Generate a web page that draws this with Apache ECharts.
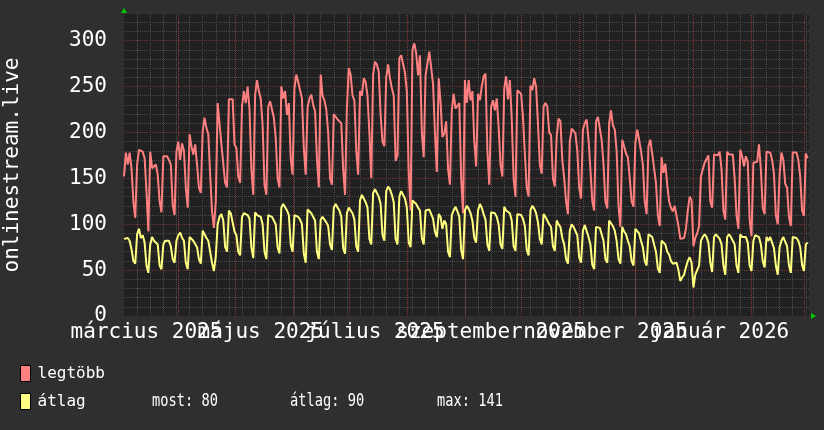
<!DOCTYPE html>
<html>
<head>
<meta charset="utf-8">
<script src="https://cdn.jsdelivr.net/npm/echarts@6/dist/echarts.min.js"></script>
<style>
html,body{margin:0;padding:0;background:#2f2f2f;}
#c{width:824px;height:430px;}
</style>
</head>
<body>
<div id="c"></div>
<script>
// Daily values starting Monday 2025-03-03 (one row per week, Mon..Sun)
const startDate = '2025-03-03';
const legtobb = [
152,178,165,178,161,125,107,
165,181,181,179,172,136,92,
179,161,159,165,154,125,113,
174,172,174,170,165,121,110,
179,190,170,188,180,140,118,
198,185,176,187,165,140,134,
201,216,205,198,154,114,96,
125,232,234,187,185,145,140,
236,234,236,187,183,152,145,
228,245,232,250,225,160,132,
241,257,245,237,208,143,132,
228,234,225,216,194,150,140,
250,237,245,219,232,172,154,
248,263,255,246,237,183,154,
227,237,241,230,223,172,140,
263,240,235,225,200,150,143,
220,217,214,212,210,160,132,
227,270,263,240,235,180,154,
245,240,259,255,240,200,150,
263,277,274,266,219,190,185,
260,274,259,248,240,169,175,
281,284,283,265,245,158,115,
290,297,286,262,284,200,173,
262,264,288,286,253,200,157,
259,233,195,199,212,160,143,
224,242,226,226,232,150,112,
257,232,257,235,245,190,163,
242,235,250,261,264,180,143,
228,235,224,237,206,165,152,
248,261,236,257,215,150,130,
246,244,242,217,177,140,130,
251,246,259,250,210,165,155,
228,232,228,200,197,150,141,
196,215,212,170,150,125,111,
190,204,202,199,180,140,128,
203,210,214,192,160,125,115,
212,217,217,192,165,125,117,
210,224,208,203,180,120,97,
192,185,177,173,150,125,119,
189,203,192,180,165,125,111,
185,192,177,175,145,110,98,
173,156,166,143,125,118,114,
120,118,98,84,82,85,95,
115,130,126,76,85,90,98,
152,160,167,168,175,125,118,
176,178,175,179,160,115,105,
179,176,178,176,150,110,95,
181,174,163,174,168,105,87,
167,168,168,187,160,118,111,
179,177,178,170,155,110,100,
154,178,170,144,140,108,98,
178,176,178,170,152,115,109,
177,172
];
const atlag = [
84,86,85,82,73,60,57,
89,95,85,88,80,55,47,
78,86,82,80,78,55,51,
78,82,80,82,76,62,58,
82,88,91,85,82,58,51,
86,84,82,80,75,62,57,
93,89,85,82,70,58,49,
65,100,108,111,104,75,70,
115,112,110,92,88,70,66,
108,112,114,110,106,75,63,
113,110,112,108,100,70,62,
110,112,108,106,100,75,68,
118,122,120,115,110,78,70,
110,112,108,105,100,68,58,
116,118,112,110,104,70,62,
105,108,106,102,98,78,72,
118,122,118,115,108,74,68,
112,118,116,112,105,76,70,
126,132,128,124,118,84,78,
134,138,136,130,122,88,82,
136,141,138,132,124,84,78,
130,136,134,128,118,80,75,
126,124,122,118,115,85,78,
115,117,116,111,106,92,86,
111,108,95,104,100,70,64,
110,115,119,114,108,72,62,
115,120,117,112,104,85,80,
115,122,118,111,105,78,71,
113,115,112,108,100,78,73,
119,115,116,112,104,76,71,
111,113,110,106,98,72,66,
115,120,117,112,102,84,78,
111,108,107,100,97,76,71,
104,100,97,85,78,62,57,
93,100,97,96,88,64,58,
93,99,97,86,78,56,51,
97,99,96,89,82,62,58,
104,102,98,93,82,62,57,
97,92,89,82,76,60,55,
95,93,90,82,75,60,55,
89,91,86,78,70,52,47,
82,82,78,70,67,60,57,
58,58,50,38,42,45,53,
60,64,58,31,45,50,55,
82,86,89,86,80,58,48,
86,89,87,84,78,55,45,
86,89,86,84,78,55,47,
89,86,84,86,80,55,49,
82,88,89,86,78,60,53,
86,82,86,80,74,55,45,
75,82,86,84,76,55,47,
86,88,85,82,75,56,49,
78,80
];
// Day indices (from startDate) of the first day of each month (major grid)
const monthStartDays = [29, 59, 90, 120, 151, 182, 212, 243, 273, 304, 335, 363];
// Tick labels and their day indices (mid-month)
const xLabelDays = [12, 73, 134, 196, 257, 318];
const xLabels = ['március 2025', 'május 2025', 'július 2025', 'szeptember 2025', 'november 2025', 'január 2026'];
const yTicks = [0, 50, 100, 150, 200, 250, 300];
const legendStats = ['most: 80', 'átlag: 90', 'max: 141'];

const X_MAX = 365.7, Y_MAX = 329;
const FONT = 'DejaVu Sans Mono';
const MINOR = '#4a4a4a', MAJOR = '#7a3030', MAJOR_V = '#8e3636';

const labelFmt = v => { const i = xLabelDays.indexOf(Math.round(v)); return i >= 0 ? xLabels[i] : ''; };
const labelsA = xLabelDays.filter((d, i) => i % 2 === 0);
const labelsB = xLabelDays.filter((d, i) => i % 2 === 1);

const chart = echarts.init(document.getElementById('c'), null, {renderer: 'canvas'});
const redData = legtobb.map((v, i) => [i, v]);
const yelData = atlag.map((v, i) => [i, v]);

const xLabelStyle = {color: '#ffffff', fontSize: 21, fontFamily: FONT, margin: 6, hideOverlap: false,
                     showMinLabel: true, showMaxLabel: true, formatter: labelFmt};

chart.setOption({
  backgroundColor: '#2f2f2f',
  animation: false,
  grid: {left: 124, right: 15, top: 14, bottom: 114, show: true, backgroundColor: '#212121', borderWidth: 0,
         containLabel: false, outerBoundsMode: 'none'},
  xAxis: [
    {
      type: 'value', min: 0, max: X_MAX, interval: 7,
      axisLine: {show: false}, axisTick: {show: false},
      splitLine: {show: true, showMinLine: false, showMaxLine: false, lineStyle: {color: MINOR, width: 1, type: [1, 1]}},
      axisLabel: Object.assign({customValues: labelsA}, xLabelStyle)
    },
    {
      type: 'value', min: 0, max: X_MAX, position: 'bottom',
      axisLine: {show: false}, axisTick: {show: false},
      splitLine: {show: false},
      axisLabel: Object.assign({customValues: labelsB}, xLabelStyle)
    }
  ],
  yAxis: [
    {
      type: 'value', min: 0, max: Y_MAX, interval: 10,
      axisLine: {show: false}, axisTick: {show: false}, axisLabel: {show: false},
      splitLine: {show: true, showMinLine: false, showMaxLine: false, lineStyle: {color: MINOR, width: 1, type: [1, 1]}}
    },
    {
      type: 'value', min: 0, max: Y_MAX, interval: 50, position: 'left',
      axisLine: {show: false}, axisTick: {show: false},
      axisLabel: {
        formatter: v => yTicks.indexOf(v) >= 0 ? String(v) : '',
        color: '#ffffff', fontSize: 21, fontFamily: FONT, margin: 17
      },
      splitLine: {show: true, showMinLine: false, showMaxLine: false, lineStyle: {color: MAJOR, width: 1, type: [1, 1]}},
      name: 'onlinestream.live', nameLocation: 'middle', nameGap: 101,
      nameTextStyle: {color: '#ffffff', fontSize: 21, fontFamily: FONT}
    }
  ],
  legend: {
    orient: 'vertical', left: 15, top: 360, itemWidth: 10, itemHeight: 16, itemGap: 11,
    icon: 'rect',
    textStyle: {color: '#ffffff', fontSize: 16, fontFamily: FONT, padding: [0, 0, 0, 2]},
    itemStyle: {borderColor: '#000000', borderWidth: 1},
    data: ['legtöbb', 'átlag']
  },
  series: [
    {
      name: 'monthGrid', type: 'custom', xAxisIndex: 0, yAxisIndex: 1, silent: true, z: 2,
      data: monthStartDays.map(d => [d]),
      dimensions: ['day'],
      encode: {x: 0},
      renderItem: (params, api) => {
        const d = api.value(0);
        const p0 = api.coord([d, 0]);
        const p1 = api.coord([d, Y_MAX]);
        const x = Math.round(p0[0]) + 0.5;
        return {
          type: 'line',
          silent: true,
          shape: {x1: x, y1: p0[1], x2: x, y2: p1[1]},
          style: {stroke: MAJOR_V, lineWidth: 1, lineDash: [1, 1], fill: null}
        };
      }
    },
    {
      name: 'legtöbb', type: 'line', xAxisIndex: 0, yAxisIndex: 1, data: redData,
      showSymbol: false, symbol: 'none', color: '#ff8080',
      lineStyle: {color: '#ff8080', width: 2}, z: 3
    },
    {
      name: 'átlag', type: 'line', xAxisIndex: 0, yAxisIndex: 1, data: yelData,
      showSymbol: false, symbol: 'none', color: '#ffff80',
      lineStyle: {color: '#ffff80', width: 2}, z: 4
    }
  ],
  graphic: [
    {type: 'polygon', shape: {points: [[121, 13], [127, 13], [124, 8]]}, style: {fill: '#00cc00'}, silent: true},
    {type: 'polygon', shape: {points: [[811, 313], [811, 319], [816, 316]]}, style: {fill: '#00cc00'}, silent: true},
    {type: 'text', x: 152, y: 401, style: {text: legendStats[0], fill: '#ffffff', font: '18px ' + FONT, verticalAlign: 'middle'}, scaleX: 0.76},
    {type: 'text', x: 290, y: 401, style: {text: legendStats[1], fill: '#ffffff', font: '18px ' + FONT, verticalAlign: 'middle'}, scaleX: 0.76},
    {type: 'text', x: 437, y: 401, style: {text: legendStats[2], fill: '#ffffff', font: '18px ' + FONT, verticalAlign: 'middle'}, scaleX: 0.76}
  ]
});
</script>
</body>
</html>
